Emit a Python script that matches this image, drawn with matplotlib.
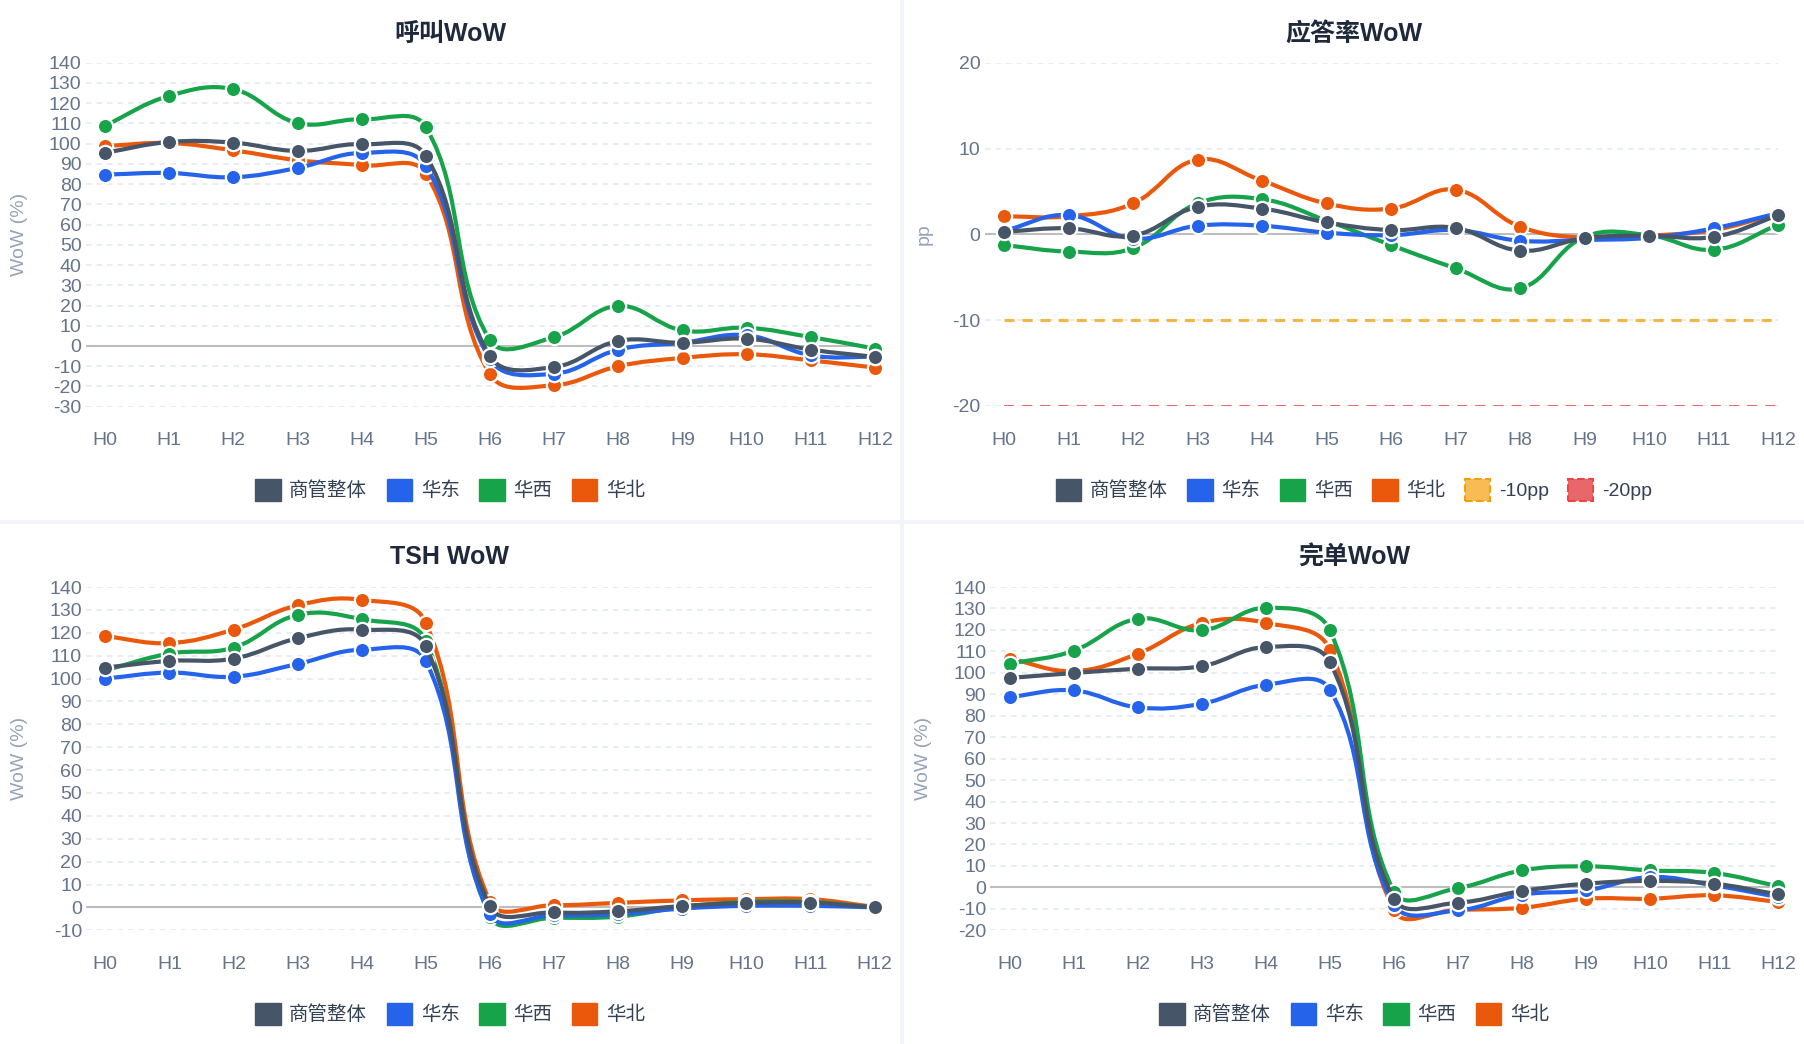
import numpy as np
import matplotlib
matplotlib.use("Agg")
import matplotlib.pyplot as plt
from matplotlib.path import Path
from matplotlib.patches import PathPatch, Patch, Rectangle

plt.rcParams['font.family'] = ['Liberation Sans', 'Noto Sans CJK SC', 'DejaVu Sans']
plt.rcParams['axes.unicode_minus'] = False

W, H = 1804, 1044

hours = ['H0', 'H1', 'H2', 'H3', 'H4', 'H5', 'H6', 'H7', 'H8', 'H9', 'H10', 'H11', 'H12']
series_names = ['商管整体', '华东', '华西', '华北']
series_colors = ['#475569', '#2563eb', '#16a34a', '#ea580c']

# 呼叫WoW (%)
call_total = [95.5, 100.8, 100.5, 96.4, 99.7, 94.0, -5.1, -10.4, 2.5, 1.6, 3.6, -1.8, -5.4]
call_east = [84.7, 85.5, 83.4, 88.0, 95.4, 89.0, -6.5, -13.7, -1.8, 1.6, 5.3, -4.6, -5.4]
call_west = [108.9, 123.6, 126.9, 110.2, 112.0, 108.2, 2.8, 4.4, 19.8, 7.7, 9.0, 4.4, -1.3]
call_north = [98.8, 100.3, 96.7, 91.8, 89.3, 85.2, -14.0, -19.4, -10.0, -5.9, -4.1, -7.1, -10.7]

# 应答率WoW (pp)
answer_total = [0.3, 0.7, -0.15, 3.2, 3.0, 1.4, 0.5, 0.75, -1.9, -0.45, -0.15, -0.3, 2.2]
answer_east = [0.4, 2.25, -0.5, 1.0, 1.0, 0.2, -0.1, 0.5, -0.75, -0.65, -0.4, 0.7, 2.45]
answer_west = [-1.25, -2.0, -1.6, 3.6, 4.1, 1.6, -1.25, -3.95, -6.3, -0.3, -0.1, -1.8, 1.1]
answer_north = [2.1, 2.1, 3.6, 8.7, 6.25, 3.6, 3.0, 5.2, 0.9, -0.4, -0.15, 0.5, 2.45]
threshold_values = [-10, -20]
threshold_names = ['-10pp', '-20pp']

# TSH WoW (%)
tsh_total = [104.8, 107.7, 108.7, 117.6, 121.4, 114.1, 0.5, -2.2, -1.7, 0.6, 2.0, 2.1, 0.0]
tsh_east = [100.0, 102.6, 100.8, 106.4, 112.6, 107.7, -3.0, -3.5, -3.0, -0.5, 0.7, 0.7, 0.0]
tsh_west = [103.6, 110.9, 113.5, 127.8, 125.9, 116.5, -4.0, -4.5, -4.0, 0.2, 2.4, 2.4, 0.0]
tsh_north = [118.5, 115.5, 121.4, 132.0, 134.4, 124.4, 2.5, 1.0, 2.0, 3.1, 3.6, 3.6, 0.2]

# 完单WoW (%)
done_total = [97.6, 99.9, 101.9, 103.1, 112.0, 105.0, -5.3, -7.1, -1.7, 1.7, 3.0, 1.7, -3.3]
done_east = [88.7, 91.8, 83.9, 85.6, 94.4, 92.1, -8.0, -10.7, -3.4, -1.4, 4.8, 0.9, -4.5]
done_west = [104.2, 110.3, 125.2, 119.8, 130.3, 119.8, -2.0, -0.3, 7.9, 9.8, 7.9, 6.7, 0.5]
done_north = [106.6, 100.8, 108.9, 123.2, 123.3, 110.8, -10.7, -10.4, -9.5, -5.3, -5.3, -3.7, -6.8]


def spline(ax, xs, ys, tension=0.4):
    # same control points as a Chart.js line with tension
    data = np.column_stack([xs, ys]).astype(float)
    pix = ax.transData.transform(data)
    n = len(data)
    before, after = [], []
    for i in range(n):
        p, q = max(i - 1, 0), min(i + 1, n - 1)
        d01 = np.hypot(*(pix[i] - pix[p]))
        d12 = np.hypot(*(pix[q] - pix[i]))
        tot = d01 + d12
        s01 = d01 / tot if tot else 0
        s12 = d12 / tot if tot else 0
        span = data[q] - data[p]
        before.append(data[i] - tension * s01 * span)
        after.append(data[i] + tension * s12 * span)
    verts, codes = [data[0]], [Path.MOVETO]
    for i in range(n - 1):
        verts += [after[i], before[i + 1], data[i + 1]]
        codes += [Path.CURVE4] * 3
    return Path(verts, codes)


fig = plt.figure(figsize=(W / 100, H / 100), dpi=100)
fig.patch.set_facecolor('#f1f5f9')


def panel(box, area, ylim, yticks, title, ylabel, series, thresholds=False):
    bx, by, bw, bh = box
    fig.add_artist(Rectangle((bx / W, 1 - (by + bh) / H), bw / W, bh / H,
                             transform=fig.transFigure, facecolor='white',
                             edgecolor='none', zorder=-5))
    x0, x12, ytop, ybot = area
    ppu = (x12 - x0) / 12
    left = x0 - 0.3 * ppu
    ax = fig.add_axes([left / W, 1 - ybot / H, (x12 - left) / W, (ybot - ytop) / H])
    ax.set_facecolor('none')
    ax.set_xlim(-0.3, 12)
    ax.set_ylim(*ylim)
    for s in ax.spines.values():
        s.set_visible(False)
    ax.set_xticks(range(len(hours)), hours)
    ax.set_yticks(yticks)
    ax.tick_params(axis='y', length=0, pad=3, labelsize=14, labelcolor='#64748b')
    ax.tick_params(axis='x', length=0, pad=18.5, labelsize=14, labelcolor='#64748b')
    ax.yaxis.grid(True, color='#e2e8f0', lw=1.1, linestyle=(0, (3.6, 3.3)))
    ax.set_axisbelow(True)
    ax.axhline(0, color='#bdbdbd', lw=1.5, zorder=1)

    x = np.arange(len(hours))
    handles = []
    for i, (vals, name, col) in enumerate(zip(series, series_names, series_colors)):
        z = 20 - 2 * i
        ax.add_patch(PathPatch(spline(ax, x, vals), facecolor='none', edgecolor=col,
                               lw=3.0, capstyle='round', joinstyle='round',
                               zorder=z, clip_on=False))
        ax.plot(x, vals, 'o', ms=11, mfc=col, mec='white', mew=1.6, zorder=z + 0.5,
                clip_on=False)
        handles.append(Patch(facecolor=col, edgecolor=col, label=name))

    if thresholds:
        styles = [('#f59e0b', 0.75, 2.2, (0, (3.3, 2.6)), '#f9bc55'),
                  ('#ef4444', 0.8, 1.45, (0, (5.0, 4.0)), '#e8676b')]
        for val, name, (col, a, lw, ls, fill) in zip(threshold_values, threshold_names, styles):
            ax.plot(x, np.full(len(x), val), color=col, alpha=a, lw=lw, linestyle=ls, zorder=3)
            handles.append(Patch(facecolor=fill, edgecolor=col, lw=1.5, linestyle='--', label=name))

    cx = bx + bw / 2
    fig.text(cx / W, 1 - (by + 33.5) / H, title, ha='center', va='center',
             fontsize=18, fontweight='bold', color='#1e293b')
    fig.text((bx + 20) / W, 1 - (ytop + ybot) / 2 / H, ylabel, rotation=90,
             ha='center', va='center', fontsize=14, color='#94a3b8')
    fig.legend(handles=handles, loc='center', bbox_to_anchor=(cx / W, 1 - (by + 490) / H),
               ncol=len(handles), frameon=False, fontsize=14, labelcolor='#334155',
               handlelength=1.3, handleheight=1.35, handletextpad=0.45,
               columnspacing=1.0, borderaxespad=0)
    return ax


panel((0, 0, 900, 520), (105, 875, 62.7, 406.7), (-30, 140), range(-30, 141, 10),
      '呼叫WoW', 'WoW (%)', [call_total, call_east, call_west, call_north])
panel((904, 0, 900, 520), (1004, 1778, 62.7, 406.0), (-20, 20), range(-20, 21, 10),
      '应答率WoW', 'pp', [answer_total, answer_east, answer_west, answer_north],
      thresholds=True)
panel((0, 524, 900, 520), (105.3, 874.6, 587, 930.3), (-10, 140), range(-10, 141, 10),
      'TSH WoW', 'WoW (%)', [tsh_total, tsh_east, tsh_west, tsh_north])
panel((904, 524, 900, 520), (1009.6, 1778.3, 587, 930.3), (-20, 140), range(-20, 141, 10),
      '完单WoW', 'WoW (%)', [done_total, done_east, done_west, done_north])

fig.savefig('out.png', dpi=100, facecolor=fig.get_facecolor())
